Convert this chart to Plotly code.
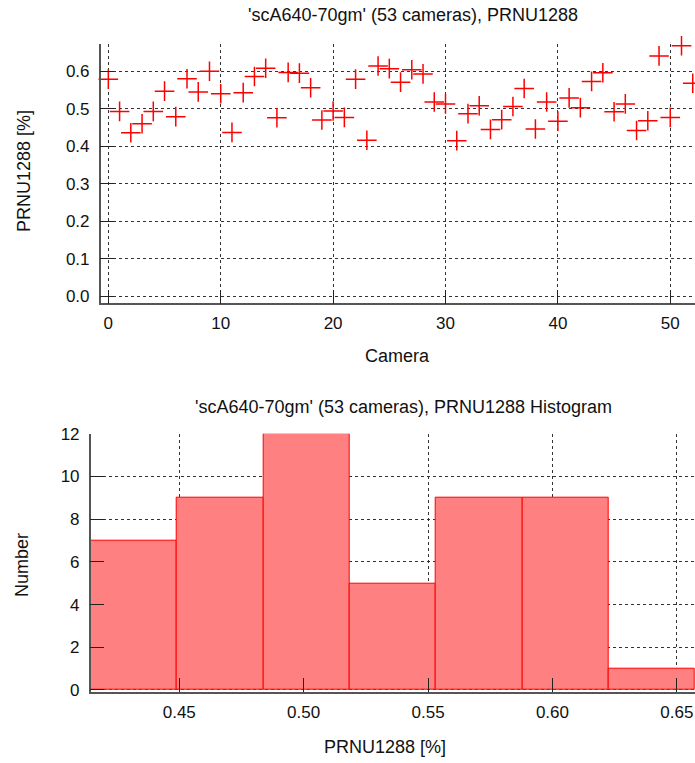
import plotly.graph_objects as go

# ---- data ----
camera_index = list(range(53))
prnu_values = [0.579, 0.493, 0.436, 0.460, 0.493, 0.547, 0.479, 0.580, 0.545, 0.600,
               0.540, 0.437, 0.543, 0.586, 0.608, 0.476, 0.597, 0.595, 0.556, 0.470,
               0.494, 0.477, 0.579, 0.416, 0.614, 0.607, 0.571, 0.604, 0.593, 0.518,
               0.513, 0.415, 0.487, 0.508, 0.445, 0.471, 0.506, 0.554, 0.446, 0.518,
               0.467, 0.529, 0.503, 0.573, 0.596, 0.492, 0.513, 0.442, 0.468, 0.641,
               0.477, 0.668, 0.568]
hist_edges = [0.4144, 0.4491, 0.4838, 0.5185, 0.5532, 0.5879, 0.6226, 0.6573]
hist_counts = [7, 9, 12, 5, 9, 9, 1]

top_title = "'scA640-70gm' (53 cameras), PRNU1288"
bottom_title = "'scA640-70gm' (53 cameras), PRNU1288 Histogram"

W, H = 695, 763
FONT = "Liberation Sans, Arial, sans-serif"
TICK_SIZE = 17
TEXT_SIZE = 18

def px_x(p):
    return p / W

def px_y(p):
    return 1 - p / H

centers = [(a + b) / 2 for a, b in zip(hist_edges[:-1], hist_edges[1:])]
widths = [b - a for a, b in zip(hist_edges[:-1], hist_edges[1:])]

fig = go.Figure()
fig.add_trace(go.Scatter(
    x=camera_index, y=prnu_values, mode="markers",
    marker=dict(symbol="cross-thin-open", size=14, color="#ff0000",
                line=dict(color="#ff0000", width=1.5)),
    cliponaxis=False, xaxis="x", yaxis="y", showlegend=False,
))
fig.add_trace(go.Bar(
    x=centers, y=hist_counts, width=widths,
    marker=dict(color="#ff8080", line=dict(color="#ff0000", width=1)),
    xaxis="x2", yaxis="y2", showlegend=False,
))

axis_common = dict(
    showline=True, linecolor="#555", linewidth=1.5, mirror=False,
    ticks="inside", ticklen=14, tickcolor="#222", tickwidth=1,
    showgrid=True, gridcolor="#333", griddash="dot", gridwidth=1,
    zeroline=False, automargin=False,
    tickfont=dict(family=FONT, size=TICK_SIZE, color="#111"),
)

fig.update_layout(
    width=W, height=H, margin=dict(l=0, r=0, t=0, b=0, pad=0, autoexpand=False),
    paper_bgcolor="white", plot_bgcolor="white",
    font=dict(family=FONT, size=TEXT_SIZE, color="#111"),
    bargap=0,
    xaxis=dict(domain=[px_x(100.7), 1], range=[-0.68, 52.2], tickvals=[0, 10, 20, 30, 40, 50],
               anchor="y", ticklabelstandoff=4, **axis_common),
    yaxis=dict(domain=[px_y(303.3), px_y(44.3)], range=[-0.0187, 0.672],
               tickvals=[0, 0.1, 0.2, 0.3, 0.4, 0.5, 0.6], tickformat=".1f",
               anchor="x", ticklabelstandoff=6, **axis_common),
    xaxis2=dict(domain=[px_x(90.7), 1], range=[hist_edges[0], hist_edges[-1]],
                tickvals=[0.45, 0.50, 0.55, 0.60, 0.65], tickformat=".2f",
                anchor="y2", ticklabelstandoff=4, **axis_common),
    yaxis2=dict(domain=[px_y(691.7), px_y(433.7)], range=[-0.08, 12],
                tickvals=[0, 2, 4, 6, 8, 10, 12], anchor="x2", ticklabelstandoff=6,
                **axis_common),
)

ann = [
    dict(text=top_title, x=px_x(413), y=px_y(15)),
    dict(text=bottom_title, x=px_x(403.5), y=px_y(407)),
    dict(text="Camera", x=px_x(398), y=px_y(356)),
    dict(text="PRNU1288 [%]", x=px_x(385), y=px_y(747)),
    dict(text="PRNU1288 [%]", x=px_x(24), y=px_y(171), textangle=-90),
    dict(text="Number", x=px_x(22), y=px_y(565), textangle=-90),
]
for a in ann:
    fig.add_annotation(xref="paper", yref="paper", showarrow=False,
                       xanchor="center", yanchor="middle",
                       font=dict(family=FONT, size=TEXT_SIZE, color="#111"), **a)

fig.write_html("out.html", config={"displayModeBar": False},
               post_script="document.body.style.margin='0';document.body.style.overflow='hidden';")
